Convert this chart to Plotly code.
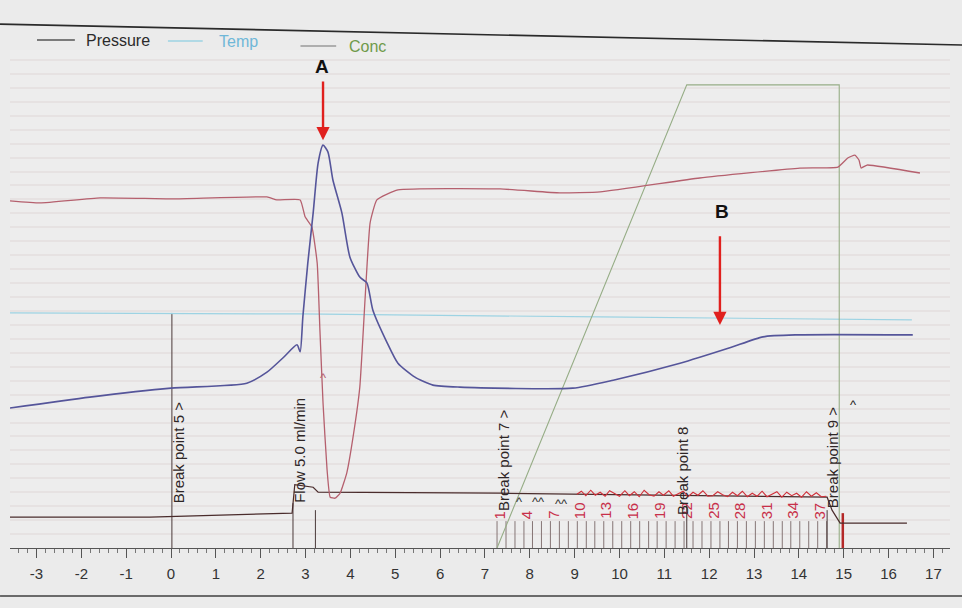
import plotly.graph_objects as go

# ---------------- data ----------------
# time axis in minutes (x); detector signals on an arbitrary 0-100 display scale (y)
uv_x = [-3.59, -1.81, 0.00, 1.69, 2.14, 2.50, 2.81, 2.88, 2.94, 3.05, 3.17, 3.28, 3.39, 3.50,
        3.61, 3.81, 3.99, 4.21, 4.37, 4.50, 4.82, 5.06, 5.44, 5.84, 6.44, 8.96, 9.86, 11.35,
        12.46, 13.20, 13.96, 16.54]
uv_y = [28.1, 30.3, 32.1, 33.1, 35.3, 38.2, 40.8, 39.4, 46.4, 57.2, 67.3, 77.3, 80.9, 79.5,
        73.9, 67.3, 58.4, 54.4, 53.2, 47.8, 41.2, 37.1, 34.3, 32.7, 32.3, 32.1, 33.7, 37.1,
        40.2, 42.4, 42.8, 42.8]

cond_x = [-3.59, -2.92, -1.58, 0.04, 2.14, 2.36, 2.88, 2.99, 3.14, 3.26, 3.32, 3.39, 3.48,
          3.55, 3.66, 3.77, 3.92, 4.06, 4.21, 4.33, 4.44, 4.59, 5.06, 7.34, 8.67, 9.57, 11.79,
          14.02, 14.87, 15.09, 15.25, 15.34, 15.39, 15.52, 16.70]
cond_y = [69.7, 69.3, 70.3, 70.1, 70.5, 69.9, 69.9, 66.5, 64.5, 57.2, 43.8, 29.1, 15.7,
          10.2, 10.0, 11.0, 15.1, 22.3, 32.3, 50.4, 65.3, 69.9, 71.9, 72.1, 71.3, 71.5, 74.3,
          76.3, 76.5, 78.3, 78.9, 77.9, 76.3, 76.9, 75.3]

temp_x = [-3.59, 2.88, 9.57, 16.52]
temp_y = [47.2, 47.0, 46.4, 45.8]

conc_x = [7.27, 11.50, 14.90, 14.90]
conc_y = [0.0, 93.0, 93.0, 0.0]

pres_x = [-3.59, -0.47, 2.70, 2.76, 3.17, 3.28, 7.34, 14.63, 14.74, 14.92, 16.41]
pres_y = [6.2, 6.2, 7.0, 12.7, 12.2, 11.2, 11.0, 10.2, 7.6, 5.0, 5.0]

noise_x = [9.05, 9.15, 9.25, 9.36, 9.46, 9.57, 9.68, 9.78, 9.90, 10.00, 10.12, 10.22, 10.33,
           10.44, 10.55, 10.66, 10.77, 10.88, 10.98, 11.10, 11.20, 11.31, 11.42, 11.53, 11.64,
           11.75, 11.86, 11.97, 12.08, 12.19, 12.30, 12.41, 12.52, 12.63, 12.74, 12.85, 12.96,
           13.07, 13.18, 13.29, 13.40, 13.51, 13.62, 13.73, 13.84, 13.95, 14.06, 14.17, 14.28,
           14.39, 14.50, 14.61]
noise_y = [10.8, 11.4, 10.5, 11.6, 10.6, 11.2, 10.4, 11.5, 10.9, 10.4, 11.5, 10.5, 11.3,
           10.3, 11.6, 10.7, 10.4, 11.3, 10.6, 11.5, 10.4, 10.9, 11.4, 10.3, 11.2,
           10.6, 11.5, 10.4, 10.5, 11.3, 10.7, 10.3, 11.2, 10.5, 11.4, 10.3, 11.0,
           10.4, 11.4, 10.3, 10.8, 11.3, 10.2, 11.2, 10.5, 11.0, 10.2, 11.3, 10.4,
           11.1, 10.3, 10.4]

fraction_starts = [7.27, 7.47, 7.67, 7.87, 8.06, 8.26, 8.46, 8.66, 8.86, 9.06, 9.26, 9.45,
                   9.65, 9.85, 10.05, 10.25, 10.45, 10.65, 10.84, 11.04, 11.24, 11.44, 11.64,
                   11.84, 12.04, 12.24, 12.43, 12.63, 12.83, 13.03, 13.23, 13.43, 13.63, 13.82,
                   14.02, 14.22, 14.42, 14.62]
fraction_numbers = list(range(1, 39))
fraction_labelled = [1, 4, 7, 10, 13, 16, 19, 22, 25, 28, 31, 34, 37]

# event marks
event_x = [0.02, 2.72, 3.22, 11.50, 14.63]
event_top = [47.2, 9.0, 7.6, 9.0, 7.6]
event_labels = ["Break point 5 >", "Flow 5.0 ml/min", "Break point 7 >", "Break point 8",
                "Break point 9 >"]
event_label_x = [0.16, 2.88, 7.40, 11.39, 14.74]
event_label_base = [8.6, 8.6, 7.0, 6.2, 7.6]
inject_x = 14.98

x_ticks = list(range(-3, 18))

peak_labels = ["A", "B"]
peak_label_x = [3.37, 12.29]
peak_label_y = [96.6, 67.5]
arrow_tail_y = [94.0, 62.9]
arrow_tip_y = [81.9, 44.8]
arrow_x = [3.39, 12.24]

# ---------------- figure ----------------
FONT = "Liberation Sans, Arial, sans-serif"
fig = go.Figure()

fx, fy = [], []
for s in fraction_starts:
    fx += [s, s, None]
    fy += [0, 5.4, None]
fig.add_trace(go.Scatter(x=fx, y=fy, mode="lines", line=dict(color="#857575", width=1),
                         showlegend=False, hoverinfo="skip"))
ex, ey = [], []
for x, t in zip(event_x, event_top):
    ex += [x, x, None]
    ey += [0, t, None]
fig.add_trace(go.Scatter(x=ex, y=ey, mode="lines", line=dict(color="#4a3a3a", width=1),
                         showlegend=False, hoverinfo="skip"))
fig.add_trace(go.Scatter(x=[inject_x, inject_x], y=[0, 7.0], mode="lines",
                         line=dict(color="#b42828", width=2.5), showlegend=False,
                         hoverinfo="skip"))

fig.add_trace(go.Scatter(x=temp_x, y=temp_y, mode="lines", name="Temp",
                         line=dict(color="#9dd3e3", width=1.2), showlegend=False))
fig.add_trace(go.Scatter(x=conc_x, y=conc_y, mode="lines", name="Conc",
                         line=dict(color="#96ad86", width=1.1), showlegend=False))
fig.add_trace(go.Scatter(x=pres_x, y=pres_y, mode="lines", name="Pressure",
                         line=dict(color="#4a2c2c", width=1.2), showlegend=False))
fig.add_trace(go.Scatter(x=noise_x, y=noise_y, mode="lines",
                         line=dict(color="#d0303a", width=1.1), showlegend=False,
                         hoverinfo="skip"))
fig.add_trace(go.Scatter(x=cond_x, y=cond_y, mode="lines", name="Cond",
                         line=dict(color="#b5606e", width=1.3, shape="spline", smoothing=0.4),
                         showlegend=False))
fig.add_trace(go.Scatter(x=uv_x, y=uv_y, mode="lines", name="UV",
                         line=dict(color="#55559a", width=1.6, shape="spline", smoothing=0.6),
                         showlegend=False))

annotations = []
for n, s in zip(fraction_numbers, fraction_starts):
    if n in fraction_labelled:
        annotations.append(dict(x=s + 0.05, y=5.4, xref="x", yref="y", text=str(n),
                                textangle=-90, showarrow=False, xanchor="center",
                                yanchor="bottom", font=dict(family=FONT, size=15,
                                                            color="#c8304a")))
for lab, lx, lb in zip(event_labels, event_label_x, event_label_base):
    annotations.append(dict(x=lx, y=lb, xref="x", yref="y", text=lab, textangle=-90,
                            showarrow=False, xanchor="center", yanchor="bottom",
                            font=dict(family=FONT, size=15, color="#2e2626")))
for cx, cy, ct, cc in [(3.39, 34.2, "^", "#b5606e"), (15.21, 28.9, "^", "#222222"),
                       (7.76, 9.4, "^", "#333333"), (8.2, 9.4, "^^", "#333333"),
                       (8.7, 9.0, "^^", "#333333")]:
    annotations.append(dict(x=cx, y=cy, xref="x", yref="y", text=ct, showarrow=False,
                            font=dict(family=FONT, size=13, color=cc)))
for lab, lx, ly in zip(peak_labels, peak_label_x, peak_label_y):
    annotations.append(dict(x=lx, y=ly, xref="x", yref="y", text="<b>" + lab + "</b>",
                            showarrow=False, font=dict(family=FONT, size=19, color="#111111")))
for axx, tail, tip in zip(arrow_x, arrow_tail_y, arrow_tip_y):
    annotations.append(dict(x=axx, y=tip, ax=axx, ay=tail, xref="x", yref="y", axref="x",
                            ayref="y", text="", showarrow=True, arrowhead=2, arrowsize=1.1,
                            arrowwidth=2.4, arrowcolor="#e0201e"))

legend_items = [("Pressure", "#555555", "#2a2a2a", 0.0287, 0.069, 1.020, 0.079),
                ("Temp", "#9dd3e3", "#6fb7d8", 0.168, 0.205, 1.018, 0.220),
                ("Conc", "#9a9a9a", "#6f9a4a", 0.309, 0.347, 1.008, 0.358)]
shapes = []
for name, lc, tc, x0, x1, yy, tx in legend_items:
    shapes.append(dict(type="line", xref="paper", yref="paper", x0=x0, x1=x1, y0=yy, y1=yy,
                       line=dict(color=lc, width=1.5)))
    annotations.append(dict(x=tx, y=yy, xref="paper", yref="paper", text=name,
                            showarrow=False, xanchor="left", yanchor="middle",
                            font=dict(family=FONT, size=16, color=tc)))
shapes.append(dict(type="line", xref="paper", yref="paper", x0=-0.0106, x1=1.0128,
                   y0=1.052, y1=1.010, line=dict(color="#2a2a2a", width=1.6)))
shapes.append(dict(type="line", xref="paper", yref="paper", x0=-0.0106, x1=1.0128,
                   y0=-0.0964, y1=-0.0964, line=dict(color="#6a6a6a", width=2)))

fig.update_layout(
    width=962, height=608,
    margin=dict(l=10, r=12, t=50, b=60),
    paper_bgcolor="#ebebeb", plot_bgcolor="#ededed",
    showlegend=False,
    annotations=annotations, shapes=shapes,
    xaxis=dict(range=[-3.59, 17.37], tickmode="array", tickvals=x_ticks,
               ticktext=[str(t) for t in x_ticks], ticks="outside", ticklen=9,
               tickcolor="#555555", tickwidth=1, showline=True, linecolor="#555555",
               showgrid=False, zeroline=False,
               minor=dict(dtick=0.2, ticks="outside", ticklen=4, tickcolor="#777777"),
               tickfont=dict(family=FONT, size=15, color="#333333"), ticklabelstandoff=3),
    yaxis=dict(range=[0, 100], visible=True, showticklabels=False, ticks="",
               showgrid=True, gridcolor="#e6e2e2", gridwidth=2, dtick=2.8,
               zeroline=False, showline=False),
)

fig.write_html("out.html", config={"displayModeBar": False},
               post_script="document.body.style.margin='0px';")
